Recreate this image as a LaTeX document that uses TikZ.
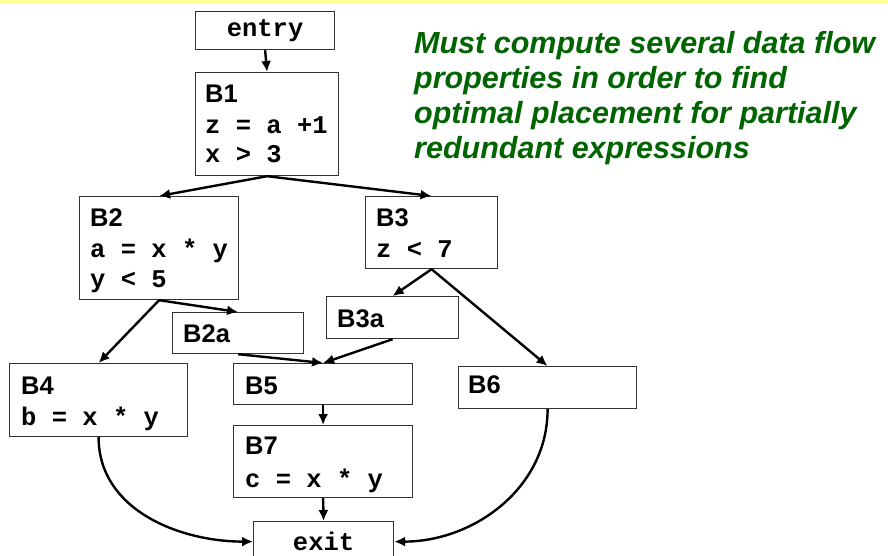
\documentclass[tikz,border=0pt]{standalone}
\usepackage{fontspec}
\usepackage{tikz}
\usepackage{xcolor}
\usetikzlibrary{arrows.meta, calc, positioning}

\newfontfamily\codefont{Liberation Mono}
\newfontfamily\labfont{Liberation Sans}
\definecolor{notegreen}{RGB}{0,100,0}
\definecolor{bandyellow}{RGB}{255,255,153}

\begin{document}
\begin{tikzpicture}[x=1pt, y=-1pt,
        blk/.style={draw=black!80, line width=1.2pt, anchor=north west, inner sep=0pt},
        lab/.style={anchor=base west, inner sep=0pt, font=\labfont\bfseries\fontsize{25.5}{28}\selectfont},
        code/.style={anchor=base west, inner sep=0pt, font=\codefont\bfseries\fontsize{25.5}{31}\selectfont},
        note/.style={anchor=base west, inner sep=0pt, align=left, text=notegreen,
            font=\labfont\bfseries\itshape\fontsize{30.5}{35}\selectfont},
        arr/.style={line width=2.4pt, -{Latex[length=11pt, width=10pt]}}]
                    \useasboundingbox (0,0) rectangle (888,556);
                    \fill[bandyellow] (0,0) rectangle (888,3);

                    % blocks
                    \node[blk, minimum width=139pt, minimum height=38pt,
                        font=\codefont\bfseries\fontsize{25.5}{31}\selectfont] (entry) at (195,11) {entry};
                    \node[blk, minimum width=143pt, minimum height=103pt] (b1) at (195,72) {};
                    \node[blk, minimum width=159pt, minimum height=103pt] (b2) at (79,196) {};
                    \node[blk, minimum width=132pt, minimum height=72pt] (b3) at (365,196) {};
                    \node[blk, minimum width=131pt, minimum height=41pt] (b2a) at (172,312) {};
                    \node[blk, minimum width=132pt, minimum height=42pt] (b3a) at (326,296) {};
                    \node[blk, minimum width=178pt, minimum height=73pt] (b4) at (9,363) {};
                    \node[blk, minimum width=179pt, minimum height=41pt] (b5) at (233,363) {};
                    \node[blk, minimum width=178pt, minimum height=42pt] (b6) at (458,366) {};
                    \node[blk, minimum width=179pt, minimum height=72pt] (b7) at (233,425) {};
                    \node[blk, minimum width=140pt, minimum height=40pt,
                        font=\codefont\bfseries\fontsize{25.5}{31}\selectfont] (exit) at (253,521) {exit};

                    % block contents
                    \node[lab] (b1name) at (205,103) {B1};
                    \node[code] (b1s1) at (205,134) {z = a +1};
                    \node[code] (b1s2) at (205,163) {x > 3};
                    \node[lab] (b2name) at (90,226) {B2};
                    \node[code] (b2s1) at (90,257) {a = x * y};
                    \node[code] (b2s2) at (90,287) {y < 5};
                    \node[lab] (b3name) at (376,226) {B3};
                    \node[code] (b3s1) at (376,257) {z < 7};
                    \node[lab] (b2aname) at (183,342) {B2a};
                    \node[lab] (b3aname) at (337,327) {B3a};
                    \node[lab] (b4name) at (21,394) {B4};
                    \node[code] (b4s1) at (21,425) {b = x * y};
                    \node[lab] (b5name) at (245,394) {B5};
                    \node[lab] (b6name) at (468,393) {B6};
                    \node[lab] (b7name) at (245,454) {B7};
                    \node[code] (b7s1) at (245,487) {c = x * y};

                    % base is the last line here
                    \node[note] (remark) at (414,159) {Must compute several data flow\\
                        properties in order to find\\
                        optimal placement for partially\\
                        redundant expressions};

                    % edges
                    \foreach \a/\b in {entry/b1, b1/b2, b1/b3, b2/b4, b2/b2a, b2a/b5,
                                       b3/b3a, b3/b6, b3a/b5, b5/b7, b7/exit} {
                        \draw[arr] (\a.south) -- (\b.north);
                    }
                    \draw[arr] (b4.south) to[out=270, in=180] (exit.west);
                    \draw[arr] (b6.south) to[out=270, in=0] (exit.east);
                \end{tikzpicture}
\end{document}
